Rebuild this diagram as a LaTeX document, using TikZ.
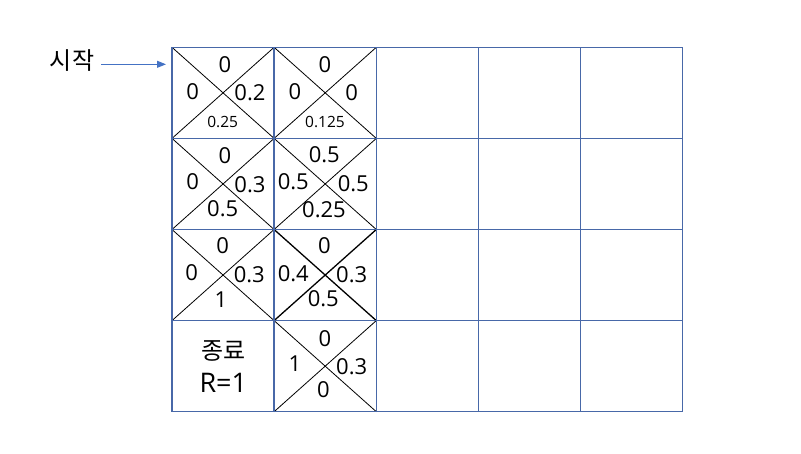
\documentclass[tikz,border=0pt]{standalone}
\usepackage{fontspec}
\setmainfont{Open Sans}
\newfontfamily\krfont{Noto Sans CJK KR}
\usetikzlibrary{arrows.meta}
\definecolor{gridblue}{RGB}{72,104,168}
\definecolor{arrowblue}{RGB}{68,114,196}
\tikzset{
  val/.style={inner sep=0pt,font=\fontsize{22}{26}\selectfont},
  smallval/.style={inner sep=0pt,font=\fontsize{15.5}{18}\selectfont},
  krtext/.style={inner sep=0pt,font=\krfont\fontsize{24}{28}\selectfont},
  diag/.style={black,line width=0.8pt},
  gridline/.style={gridblue,line width=1.4pt}
}

\begin{document}
\begin{tikzpicture}[x=1pt,y=-1pt]
    \useasboundingbox (0,0) rectangle (801,453);
    % start label and arrow
    \node[krtext] (start) at (72,61) {시작};
    \coordinate (arrowend) at (166,64.3);
    \draw[arrowblue,line width=1pt,-{Triangle[length=9pt,width=7pt]}] ([shift={(7pt,-3.3pt)}]start.east) -- (arrowend);
    % crosses in the cells
    \draw[diag] (172,47.3)--(274.1,138.4) (274.1,47.3)--(172,138.4);
    \draw[diag] (274.1,47.3)--(376.3,138.4) (376.3,47.3)--(274.1,138.4);
    \draw[diag] (172,138.4)--(274.1,229.5) (274.1,138.4)--(172,229.5);
    \draw[diag] (274.1,138.4)--(376.3,229.5) (376.3,138.4)--(274.1,229.5);
    \draw[diag] (172,229.5)--(274.1,320.6) (274.1,229.5)--(172,320.6);
    \draw[diag,line width=1.3pt] (274.1,229.5)--(376.3,320.6) (376.3,229.5)--(274.1,320.6);
    \draw[diag] (274.1,320.6)--(376.3,411.7) (376.3,320.6)--(274.1,411.7);
    % grid
    \draw[gridline] (172,47.3)--(682.7,47.3);
    \draw[gridline] (172,138.4)--(682.7,138.4);
    \draw[gridline] (172,229.5)--(682.7,229.5);
    \draw[gridline] (172,320.6)--(682.7,320.6);
    \draw[gridline] (172,411.7)--(682.7,411.7);
    \draw[gridline] (172,47.3)--(172,411.7);
    \draw[gridline] (274.1,47.3)--(274.1,411.7);
    \draw[gridline] (376.3,47.3)--(376.3,411.7);
    \draw[gridline] (478.4,47.3)--(478.4,411.7);
    \draw[gridline] (580.6,47.3)--(580.6,411.7);
    \draw[gridline] (682.7,47.3)--(682.7,411.7);
    % row 1
    \node[val] (a1t) at (225,65){0};
    \node[val] (a1l) at (192.7,91.7){0};
    \node[val] (a1r) at (250,93){0.2};
    \node[smallval] (a1b) at (222.7,121.7){0.25};
    \node[val] (b1t) at (325,65){0};
    \node[val] (b1l) at (295,91.5){0};
    \node[val] (b1r) at (351.7,93){0};
    \node[smallval] (b1b) at (325,121.7){0.125};
    % row 2
    \node[val] (a2t) at (225,156){0};
    \node[val] (a2l) at (192.7,181.7){0};
    \node[val] (a2r) at (250,185){0.3};
    \node[val] (a2b) at (222.7,208.3){0.5};
    \node[val] (b2t) at (324.3,155){0.5};
    \node[val] (b2l) at (293.3,181.7){0.5};
    \node[val] (b2r) at (353.3,183.3){0.5};
    \node[val] (b2b) at (324,210){0.25};
    % row 3
    \node[val] (a3t) at (222.7,246){0};
    \node[val] (a3l) at (191.7,272.7){0};
    \node[val] (a3r) at (249.3,275){0.3};
    \node[val] (a3b) at (221,299.3){1};
    \node[val] (b3t) at (324.3,246){0};
    \node[val] (b3l) at (293.3,273.3){0.4};
    \node[val] (b3r) at (351.7,275){0.3};
    \node[val] (b3b) at (323.3,298.3){0.5};
    % row 4
    \node[krtext] (goal) at (223.3,351){종료};
    \node[inner sep=0pt,font=\fontsize{27}{30}\selectfont] (reward) at (223.3,382.5){R=1};
    \node[val] (b4t) at (325,338.3){0};
    \node[val] (b4l) at (295,363.3){1};
    \node[val] (b4r) at (351.7,366.7){0.3};
    \node[val] (b4b) at (323.3,390){0};
\end{tikzpicture}
\end{document}
